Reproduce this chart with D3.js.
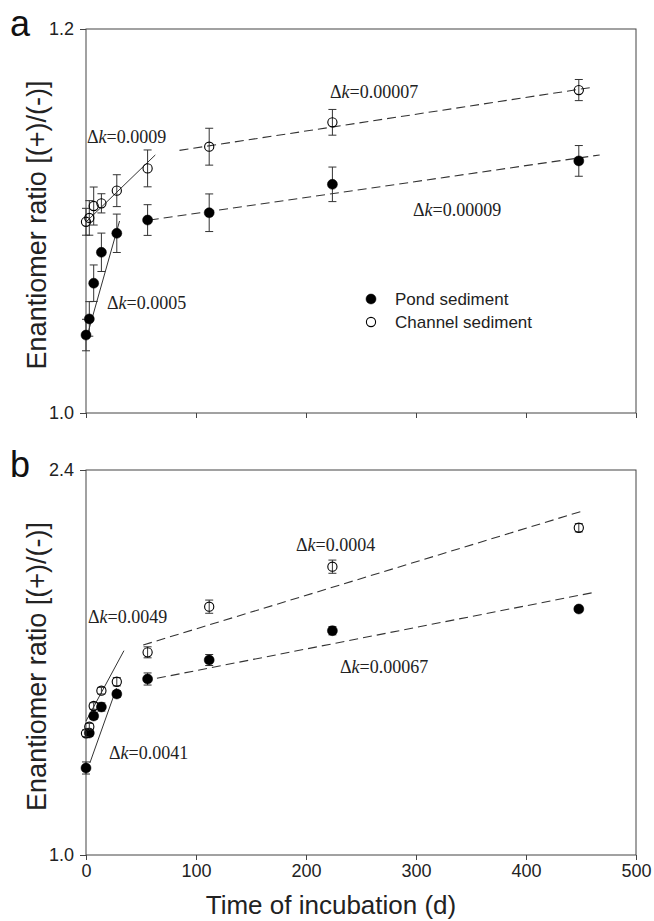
<!DOCTYPE html>
<html>
<head>
<meta charset="utf-8">
<script src="https://cdn.jsdelivr.net/npm/d3@7"></script>
<style>
  body { margin: 0; background: #fff; }
  svg { display: block; }
</style>
</head>
<body>
<div id="chart"></div>
<script>
// sampling days shared by both panels
const days = [0, 3, 7, 14, 28, 56, 112, 224, 448];

// panel a
const pondA = [1.0406, 1.0490, 1.0676, 1.0837, 1.0936, 1.1005, 1.1043, 1.1191, 1.1313];
const pondAErr = [0.0082, 0.009, 0.0095, 0.010, 0.010, 0.008, 0.0098, 0.009, 0.008];
const channelA = [1.0996, 1.1016, 1.1078, 1.1092, 1.1158, 1.1274, 1.1387, 1.1514, 1.1682];
const channelAErr = [0.007, 0.009, 0.0099, 0.005, 0.0083, 0.0096, 0.0096, 0.0067, 0.0055];
const solidFitsA = [[[1, 1.0401], [30.5, 1.1000]], [[0, 1.0995], [63, 1.1344]]];
const dashedFitsA = [[[58, 1.1005], [467, 1.1344]], [[85, 1.1368], [460, 1.1696]]];
const labelsA = [
  { k: "0.0009", t: 0.9, v: 1.1437 },
  { k: "0.0005", t: 19.1, v: 1.0573 },
  { k: "0.00007", t: 221.8, v: 1.1672 },
  { k: "0.00009", t: 297.3, v: 1.1057 }
];

// panel b
const pondB = [1.3164, 1.4436, 1.5055, 1.5382, 1.5855, 1.6400, 1.7090, 1.8156, 1.8945];
const pondBErr = [0.022, 0.012, 0.012, 0.015, 0.012, 0.022, 0.02, 0.015, 0.008];
const channelB = [1.4425, 1.4665, 1.5418, 1.5975, 1.6300, 1.7370, 1.9030, 2.0484, 2.1900];
const channelBErr = [0.012, 0.012, 0.012, 0.012, 0.015, 0.02, 0.024, 0.024, 0.015];
const solidFitsB = [[[3.5, 1.3345], [27.7, 1.6070]], [[0, 1.4870], [34.5, 1.7430]]];
const dashedFitsB = [[[52, 1.6327], [462, 1.9550]], [[52, 1.7636], [451.5, 2.2510]]];
const labelsB = [
  { k: "0.0049", t: 1.8, v: 1.8655 },
  { k: "0.0041", t: 20.9, v: 1.3710 },
  { k: "0.0004", t: 190.9, v: 2.1270 },
  { k: "0.00067", t: 230.9, v: 1.6850 }
];

const xTicks = [0, 100, 200, 300, 400, 500];
const legendItems = ["Pond sediment", "Channel sediment"];

const W = 654, H = 921;
const sans = "'Liberation Sans', Arial, Helvetica, sans-serif";
const serif = "'Liberation Serif', 'Times New Roman', serif";
const ink = "#222";

const svg = d3.select("#chart").append("svg").attr("width", W).attr("height", H);
const x = d3.scaleLinear().domain([0, 500]).range([86, 636]);

const panels = [
  { letter: "a", top: 29, bottom: 413, domain: [1.0, 1.2], yTicks: [1.0, 1.2],
    pond: pondA, pondErr: pondAErr, channel: channelA, channelErr: channelAErr,
    solid: solidFitsA, dashed: dashedFitsA, labels: labelsA, xLabels: false, legend: true },
  { letter: "b", top: 470, bottom: 855, domain: [1.0, 2.4], yTicks: [1.0, 2.4],
    pond: pondB, pondErr: pondBErr, channel: channelB, channelErr: channelBErr,
    solid: solidFitsB, dashed: dashedFitsB, labels: labelsB, xLabels: true, legend: false }
];

panels.forEach(p => {
  const y = d3.scaleLinear().domain(p.domain).range([p.bottom, p.top]);
  const g = svg.append("g");

  // frame
  g.append("rect")
    .attr("x", x(0)).attr("y", p.top)
    .attr("width", x(500) - x(0)).attr("height", p.bottom - p.top)
    .attr("fill", "none").attr("stroke", "#444").attr("stroke-width", 1);

  const yAxis = g.append("g").attr("transform", `translate(${x(0)},0)`)
    .call(d3.axisLeft(y).tickValues(p.yTicks).tickFormat(d3.format(".1f")).tickSize(6).tickPadding(6));
  const xAxis = g.append("g").attr("transform", `translate(0,${p.bottom})`)
    .call(d3.axisBottom(x).tickValues(xTicks).tickFormat(p.xLabels ? d3.format("d") : "").tickSize(5).tickPadding(4));
  [yAxis, xAxis].forEach(a => {
    a.select(".domain").remove();
    a.selectAll("line").attr("stroke", "#444");
    a.selectAll("text").style("font-family", sans).style("font-size", "18px").attr("fill", ink);
  });

  // panel letter
  g.append("text").attr("x", 10).attr("y", p.top + 7)
    .style("font-family", sans).style("font-size", "36px").attr("fill", "#111")
    .text(p.letter);

  // y title
  g.append("text")
    .attr("transform", `translate(46,${(p.top + p.bottom) / 2 + 4}) rotate(-90)`)
    .attr("text-anchor", "middle")
    .style("font-family", sans).style("font-size", "27px").attr("fill", ink)
    .text("Enantiomer ratio [(+)/(-)]");

  const line = d3.line().x(d => x(d[0])).y(d => y(d[1]));
  g.selectAll(".solid").data(p.solid).join("path").attr("class", "solid")
    .attr("d", line).attr("fill", "none").attr("stroke", "#333").attr("stroke-width", 1);
  g.selectAll(".dashed").data(p.dashed).join("path").attr("class", "dashed")
    .attr("d", line).attr("fill", "none").attr("stroke", "#333").attr("stroke-width", 1.1)
    .attr("stroke-dasharray", "9,5");

  const series = [
    { vals: p.pond, err: p.pondErr, filled: true },
    { vals: p.channel, err: p.channelErr, filled: false }
  ];
  series.forEach(s => {
    const pts = days.map((t, i) => ({ t, v: s.vals[i], e: s.err[i] }));
    const eb = g.append("g").selectAll("g").data(pts).join("g")
      .attr("stroke", "#333").attr("stroke-width", 1);
    eb.append("line").attr("x1", d => x(d.t)).attr("x2", d => x(d.t))
      .attr("y1", d => y(d.v - d.e)).attr("y2", d => y(d.v + d.e));
    eb.append("line").attr("x1", d => x(d.t) - 4).attr("x2", d => x(d.t) + 4)
      .attr("y1", d => y(d.v - d.e)).attr("y2", d => y(d.v - d.e));
    eb.append("line").attr("x1", d => x(d.t) - 4).attr("x2", d => x(d.t) + 4)
      .attr("y1", d => y(d.v + d.e)).attr("y2", d => y(d.v + d.e));

    g.append("g").selectAll("circle").data(pts).join("circle")
      .attr("cx", d => x(d.t)).attr("cy", d => y(d.v))
      .attr("r", s.filled ? 5 : 4.6)
      .attr("fill", s.filled ? "#000" : "none")
      .attr("stroke", "#000").attr("stroke-width", s.filled ? 0.5 : 1.1);
  });

  // Δk annotations
  const lab = g.selectAll(".dk").data(p.labels).join("text").attr("class", "dk")
    .attr("x", d => x(d.t)).attr("y", d => y(d.v)).attr("dy", "0.35em")
    .style("font-family", serif).style("font-size", "18px").attr("fill", ink);
  lab.append("tspan").text("\u0394");
  lab.append("tspan").style("font-style", "italic").text("k");
  lab.append("tspan").text(d => "=" + d.k);

  if (p.legend) {
    const lg = g.append("g").selectAll("g").data(legendItems).join("g")
      .attr("transform", (d, i) => `translate(371,${299 + i * 23})`);
    lg.append("circle").attr("r", (d, i) => i ? 4.6 : 5)
      .attr("fill", (d, i) => i ? "none" : "#000")
      .attr("stroke", "#000").attr("stroke-width", (d, i) => i ? 1.1 : 0.5);
    lg.append("text").attr("x", 24).attr("dy", "0.35em")
      .style("font-family", sans).style("font-size", "17px").attr("fill", ink)
      .text(d => d);
  }

  if (p.xLabels) {
    g.append("text").attr("x", 331).attr("y", 914)
      .attr("text-anchor", "middle")
      .style("font-family", sans).style("font-size", "26px").attr("fill", ink)
      .text("Time of incubation (d)");
  }
});
</script>
</body>
</html>
